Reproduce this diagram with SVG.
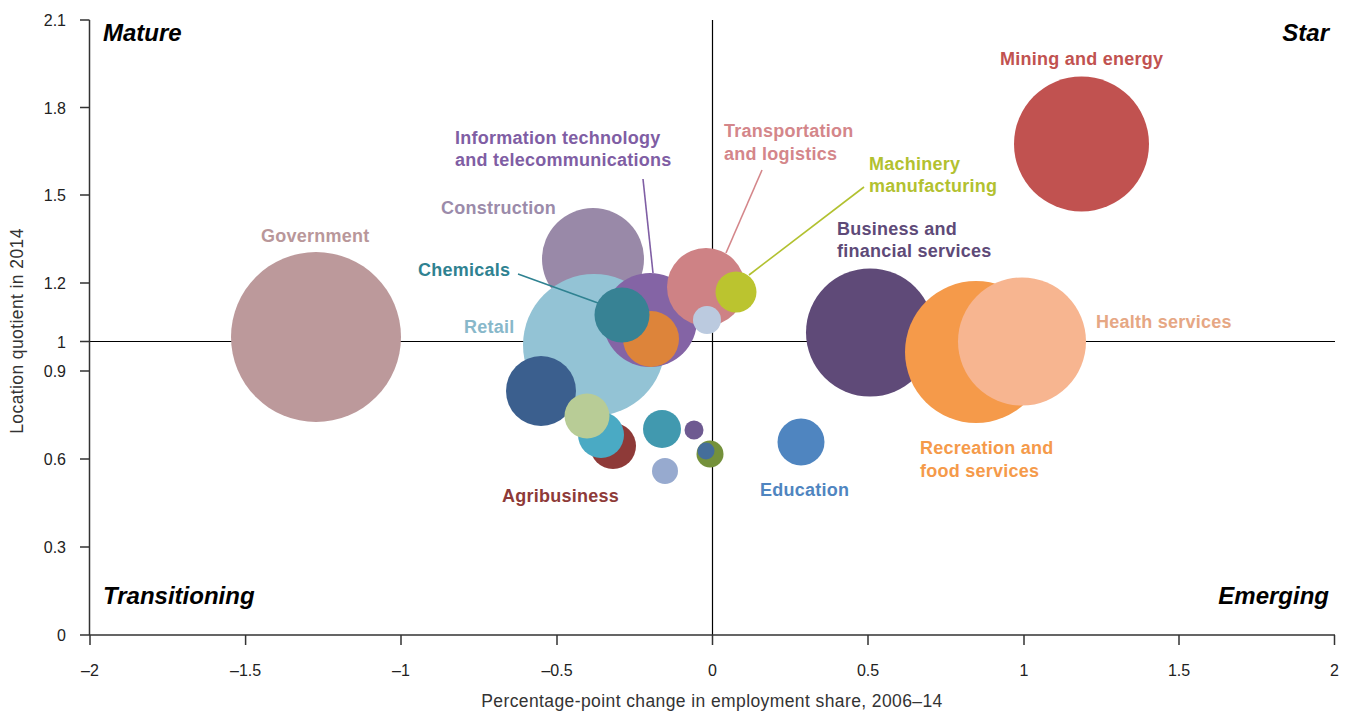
<svg xmlns="http://www.w3.org/2000/svg" width="1349" height="711" viewBox="0 0 1349 711">
<style>
text{font-family:"Liberation Sans",Arial,Helvetica,sans-serif}
.tick{font-size:16px;fill:#222}
.axt{font-size:17.5px;fill:#333;letter-spacing:0.4px}
.quad{font-size:24px;font-weight:bold;font-style:italic;fill:#000}
.lbl{font-size:18px;font-weight:bold;letter-spacing:0.25px}
.ax{stroke:#333;stroke-width:1.5;fill:none}
.cross{stroke:#000;stroke-width:1.2;fill:none}
.lead{stroke-width:1.6;fill:none}
</style>
<rect width="1349" height="711" fill="#fff"/>
<g id="axes">
<line class="cross" x1="712.5" y1="20" x2="712.5" y2="635"/>
<line class="cross" x1="90" y1="341.5" x2="1335" y2="341.5"/>
<path class="ax" d="M89.5 20V635M80 635H1335M80 20H89.5M80 107.5H89.5M80 195H89.5M80 283H89.5M80 341.5H89.5M80 371H89.5M80 459H89.5M80 547H89.5M90 635V645M245.6 635V645M401 635V645M557 635V645M712.5 635V645M868 635V645M1024 635V645M1179 635V645M1334.5 635V645"/>
<g class="tick" text-anchor="end">
<text x="66" y="26">2.1</text><text x="66" y="113.5">1.8</text><text x="66" y="201">1.5</text><text x="66" y="289">1.2</text><text x="66" y="347.5">1</text><text x="66" y="377">0.9</text><text x="66" y="465">0.6</text><text x="66" y="553">0.3</text><text x="66" y="641">0</text>
</g>
<g class="tick" text-anchor="middle">
<text x="90" y="676">–2</text><text x="245.6" y="676">–1.5</text><text x="401" y="676">–1</text><text x="557" y="676">–0.5</text><text x="712.5" y="676">0</text><text x="868" y="676">0.5</text><text x="1024" y="676">1</text><text x="1179" y="676">1.5</text><text x="1334.5" y="676">2</text>
</g>
<text class="axt" x="712" y="707" text-anchor="middle">Percentage-point change in employment share, 2006–14</text>
<text class="axt" transform="translate(23 331) rotate(-90)" text-anchor="middle">Location quotient in 2014</text>
<text class="quad" x="103" y="41">Mature</text>
<text class="quad" x="1329" y="41" text-anchor="end">Star</text>
<text class="quad" x="103" y="604">Transitioning</text>
<text class="quad" x="1329" y="604" text-anchor="end">Emerging</text>
</g>
<g id="government"><circle cx="316" cy="337" r="85" fill="#BC999B"/><text class="lbl" x="261" y="242" fill="#B9979A">Government</text></g>
<g id="construction"><circle cx="593" cy="259" r="51" fill="#9989A8"/><text class="lbl" x="441" y="214" fill="#9B8BAA">Construction</text></g>
<g id="retail"><circle cx="594" cy="345" r="71" fill="#93C3D5"/><text class="lbl" x="464" y="333" fill="#88B8CA">Retail</text></g>
<g id="sector-darkblue"><circle cx="541" cy="391" r="35" fill="#3B5F8E"/></g>
<g id="agribusiness"><circle cx="613" cy="446" r="23" fill="#8E3A38"/><text class="lbl" x="502" y="502" fill="#8E3A38">Agribusiness</text></g>
<g id="sector-cyan"><circle cx="601" cy="435" r="23" fill="#4AAAC4"/></g>
<g id="sector-lightgreen"><circle cx="587" cy="416" r="22.5" fill="#B8CC96"/></g>
<g id="it-telecom"><circle cx="650" cy="320" r="47" fill="#8464A5"/><text class="lbl" x="455" y="144" fill="#7F5EA4">Information technology</text><text class="lbl" x="455" y="166" fill="#7F5EA4">and telecommunications</text></g>
<g id="sector-orange"><circle cx="651" cy="339" r="28" fill="#DD843A"/></g>
<g id="chemicals"><circle cx="622" cy="315" r="27.5" fill="#378294"/><text class="lbl" x="418" y="276" fill="#2F8291">Chemicals</text></g>
<g id="transportation"><circle cx="706" cy="287" r="39" fill="#CE8285"/><text class="lbl" x="724" y="137" fill="#D4868A">Transportation</text><text class="lbl" x="724" y="160" fill="#D4868A">and logistics</text></g>
<g id="sector-grayblue"><circle cx="707" cy="320" r="14" fill="#BBCADF"/></g>
<g id="machinery"><circle cx="736" cy="292" r="20.5" fill="#BBC42F"/><text class="lbl" x="869" y="170" fill="#B2C130">Machinery</text><text class="lbl" x="869" y="192" fill="#B2C130">manufacturing</text></g>
<g id="sector-teal"><circle cx="662" cy="429" r="19" fill="#4199AF"/></g>
<g id="sector-smallpurple"><circle cx="694" cy="430" r="9.5" fill="#6E5A91"/></g>
<g id="sector-periwinkle"><circle cx="665" cy="471" r="13" fill="#97AACF"/></g>
<g id="sector-olive"><circle cx="710" cy="454" r="13.5" fill="#74913B"/></g>
<g id="sector-smallblue"><circle cx="706" cy="451" r="8.5" fill="#456E9A"/></g>
<g id="education"><circle cx="801" cy="442" r="23.5" fill="#4F85C0"/><text class="lbl" x="760" y="496" fill="#4F85C0">Education</text></g>
<g id="business"><circle cx="870" cy="332.5" r="64" fill="#5F4A78"/><text class="lbl" x="837" y="235" fill="#5E4A78">Business and</text><text class="lbl" x="837" y="257" fill="#5E4A78">financial services</text></g>
<g id="recreation"><circle cx="976" cy="352" r="71" fill="#F59A4A"/><text class="lbl" x="920" y="454" fill="#F59A4A">Recreation and</text><text class="lbl" x="920" y="477" fill="#F59A4A">food services</text></g>
<g id="health"><circle cx="1022" cy="341.5" r="64" fill="#F7B590"/><text class="lbl" x="1096" y="328" fill="#E6A784">Health services</text></g>
<g id="mining"><circle cx="1081.5" cy="144" r="67.5" fill="#C15250"/><text class="lbl" x="1000" y="65" fill="#C15250">Mining and energy</text></g>
<g id="connectors">
<line class="lead" x1="643" y1="179" x2="653" y2="273" stroke="#7F5EA4"/>
<line class="lead" x1="518" y1="274" x2="598" y2="303" stroke="#2F8291"/>
<line class="lead" x1="762" y1="170" x2="726" y2="253" stroke="#D4868A"/>
<line class="lead" x1="864" y1="187" x2="749" y2="275" stroke="#B2C130"/>
</g>
</svg>
